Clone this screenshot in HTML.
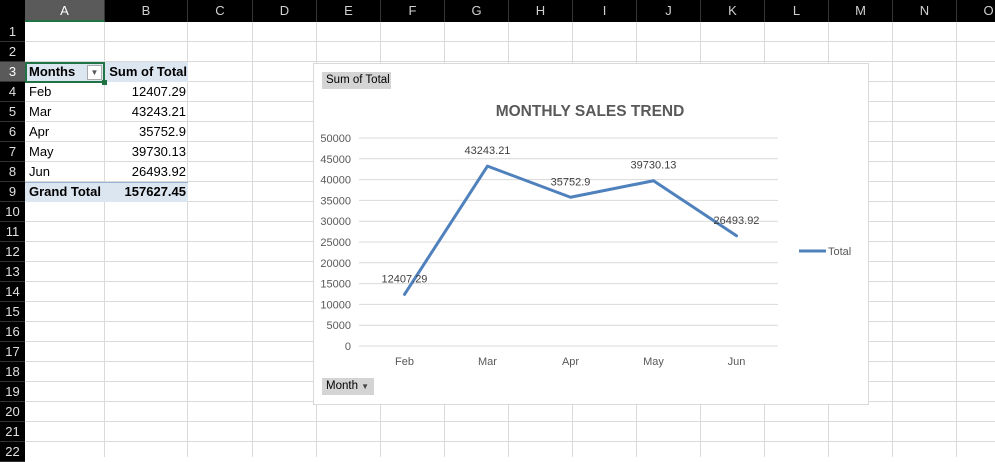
<!DOCTYPE html>
<html><head><meta charset="utf-8"><style>
body{margin:0;width:995px;height:457px;overflow:hidden;background:#fff;font-family:"Liberation Sans",sans-serif;position:relative}
.abs{position:absolute;box-sizing:border-box}
.ch{top:0;height:22px;background:#000;color:#d0d0d0;font-size:13px;text-align:center;line-height:22px;border-right:1px solid #333}
.rh{left:0;width:25px;height:20px;background:#000;color:#e0e0e0;font-size:13px;text-align:center;line-height:20px;border-bottom:1px solid #333}
.cell{font-size:13px;line-height:20px;height:20px;padding:0 4px;color:#000}
</style></head><body>
<div id="sheet"></div>
<svg class="abs" style="left:0;top:0" width="995" height="457" id="grid"></svg>
<div class="abs" style="left:25px;top:62px;width:163px;height:20px;background:#dce6f1"></div>
<div class="abs" style="left:25px;top:182px;width:163px;height:20px;background:#dce6f1;border-top:1px solid #9bb3d3"></div>
<div class="abs" style="left:25px;top:62px;width:80px;height:21px;border:2px solid #217346"></div>
<div class="abs" style="left:102px;top:80px;width:5px;height:5px;background:#217346"></div>
<div class="abs" style="left:87px;top:65px;width:15px;height:15px;border:1px solid #aaa;background:#fff;font-size:8px;text-align:center;line-height:14px;color:#555">▼</div>
<div class="abs cell" style="left:25px;top:62px;font-weight:bold">Months</div>
<div class="abs cell" style="left:105px;top:62px;width:83px;text-align:right;font-weight:bold;padding:0 1px">Sum of Total</div>
<div id="pt"></div>
<div class="abs" style="left:313px;top:63px;width:556px;height:342px;background:#fff;border:1px solid #d9d9d9"></div>
<svg class="abs" style="left:0;top:0" width="995" height="457" id="chart"></svg>
<div class="abs" style="left:322px;top:72px;width:69px;height:17px;background:#d4d4d4;font-size:11.5px;line-height:17px;padding-left:4px;color:#000">Sum of Total</div>
<div class="abs" style="left:322px;top:378px;width:52px;height:17px;background:#d4d4d4;font-size:11.5px;line-height:17px;padding-left:4px;color:#000">Month <span style="font-size:8px;color:#444">▼</span></div>
<script>
const cols=["A","B","C","D","E","F","G","H","I","J","K","L","M","N","O"];
const colX=[25,105,188,253,317,381,445,509,573,637,701,765,829,893,957,1021];
const sheet=document.getElementById('sheet');
let h='<div class="abs" style="left:0;top:0;width:25px;height:22px;background:#000"></div>';
cols.forEach((c,i)=>{h+=`<div class="abs ch" style="left:${colX[i]}px;width:${colX[i+1]-colX[i]}px;${i==0?'background:#5a5a5a;color:#fff;border-bottom:2px solid #217346':''}">${c}</div>`});
for(let r=1;r<=22;r++){h+=`<div class="abs rh" style="top:${22+(r-1)*20}px;${r==3?'background:#5a5a5a;color:#fff':''}">${r}</div>`}
sheet.innerHTML=h;
let g='';
for(let i=1;i<colX.length;i++)g+=`<line x1="${colX[i]-0.5}" y1="22" x2="${colX[i]-0.5}" y2="457" stroke="#dadada"/>`;
for(let r=1;r<=22;r++)g+=`<line x1="25" y1="${22+r*20-0.5}" x2="995" y2="${22+r*20-0.5}" stroke="#dadada"/>`;
document.getElementById('grid').innerHTML=g;

const months=["Feb","Mar","Apr","May","Jun"];
const totals=[12407.29,43243.21,35752.9,39730.13,26493.92];
const labels=["12407.29","43243.21","35752.9","39730.13","26493.92"];
const yTicks=[0,5000,10000,15000,20000,25000,30000,35000,40000,45000,50000];
const grand="157627.45";

let p='';
months.forEach((m,i)=>{
p+=`<div class="abs cell" style="left:25px;top:${82+i*20}px">${m}</div>`;
p+=`<div class="abs cell" style="left:105px;top:${82+i*20}px;width:83px;text-align:right;padding:0 2px">${labels[i]}</div>`;});
p+=`<div class="abs cell" style="left:25px;top:182px;font-weight:bold">Grand Total</div>`;
p+=`<div class="abs cell" style="left:105px;top:182px;width:83px;text-align:right;font-weight:bold;padding:0 2px">${grand}</div>`;
document.getElementById('pt').innerHTML=p;

const X0=363,X1=778,Y0=346,Y1=138,YMAX=50000;
const xs=i=>X0+(X1-X0)*(i+0.5)/months.length;
const ys=v=>Y0-(Y0-Y1)*v/YMAX;
const svg=document.getElementById('chart');
const NS='http://www.w3.org/2000/svg';
function mk(t,a,txt){const e=document.createElementNS(NS,t);for(const k in a)e.setAttribute(k,a[k]);if(txt!=null)e.textContent=txt;svg.appendChild(e);return e;}
let e=mk('text',{x:590,y:116,'text-anchor':'middle','font-size':'15.5','font-weight':'bold',fill:'#595959','font-family':'Liberation Sans, sans-serif'},'MONTHLY SALES TREND');

yTicks.forEach(v=>{
 e=mk('line',{x1:359,x2:X1,y1:ys(v),y2:ys(v),stroke:'#d9d9d9'});
 
 e=mk('text',{x:351,y:ys(v)+4,'text-anchor':'end','font-size':'11',fill:'#595959'},String(v));
 
});
months.forEach((m,i)=>{
 e=mk('text',{x:xs(i),y:Y0+19,'text-anchor':'middle','font-size':'11',fill:'#595959'},m);
 
});
e=mk('polyline',{points:totals.map((v,i)=>xs(i)+','+ys(v)).join(' '),fill:'none',stroke:'#4f81bd','stroke-width':'3','stroke-linejoin':'round','stroke-linecap':'round'});

totals.forEach((v,i)=>{
 e=mk('text',{x:xs(i),y:ys(v)-12,'text-anchor':'middle','font-size':'11',fill:'#404040'},labels[i]);
 
});
e=mk('line',{x1:799,x2:826,y1:251,y2:251,stroke:'#4f81bd','stroke-width':'3'});

e=mk('text',{x:828,y:255,'font-size':'11',fill:'#595959'},'Total');

</script>
</body></html>
